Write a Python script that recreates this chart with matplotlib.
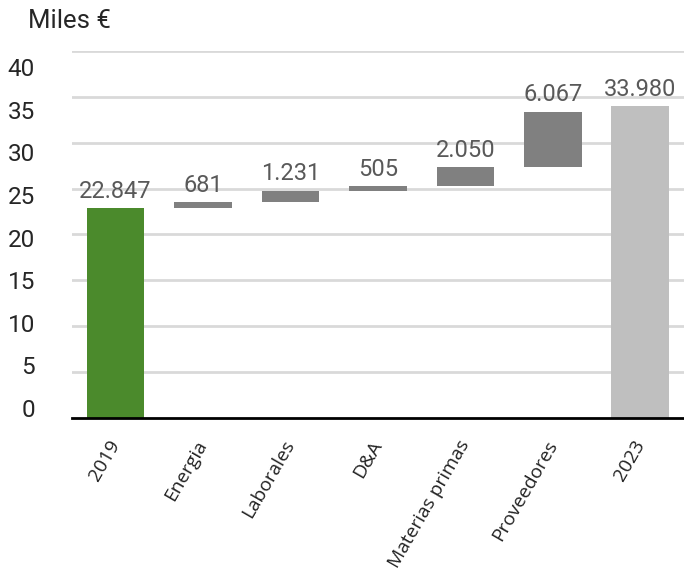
import numpy as np
import matplotlib.pyplot as plt

# Waterfall data (miles de euros)
categories = ['2019', 'Energia', 'Laborales', 'D&A', 'Materias primas', 'Proveedores', '2023']
start_value = 22.847
increments = [0.681, 1.231, 0.505, 2.050, 6.067]
end_value = 33.980
value_labels = ['22.847', '681', '1.231', '505', '2.050', '6.067', '33.980']
y_ticks = [0, 5, 10, 15, 20, 25, 30, 35, 40]

# Build bar bottoms / heights
heights = [start_value] + increments + [end_value]
bottoms = [0] + list(start_value + np.cumsum([0] + increments[:-1])) + [0]
colors = ['#4b8a2c'] + ['#808080'] * len(increments) + ['#bfbfbf']

fig = plt.figure(figsize=(6.84, 5.77), dpi=100)
ax = fig.add_axes([0.105, 0.2756, 0.895, 0.636])

x = np.arange(len(categories))
for yv in y_ticks[1:]:
    ax.axhline(yv, color='#d9d9d9', lw=2, zorder=0)
bars = ax.bar(x, heights, 0.66, bottom=bottoms, color=colors, zorder=2)

for rect, lab in zip(bars, value_labels):
    top = rect.get_y() + rect.get_height()
    ax.annotate(lab, (rect.get_x() + rect.get_width() / 2, top), xytext=(0, 4),
                textcoords='offset points', ha='center', va='bottom',
                fontsize=17, family='Roboto', color='#595959')

ax.set_xlim(-0.5, 6.5)
ax.set_ylim(0, 40)

# y labels sit slightly off the gridlines, as in the original
ax.set_yticks([1.09 + 0.929 * v for v in y_ticks])
ax.set_yticklabels([str(v) for v in y_ticks], fontsize=17.5, family='Roboto',
                   color='#262626')
ax.tick_params(axis='y', length=0, pad=26.5)

ax.set_xticks(x)
ax.set_xticklabels(categories, rotation=60, ha='right', va='center',
                   rotation_mode='anchor', fontsize=13.8, family='Open Sans',
                   color='#222222')
ax.tick_params(axis='x', length=0, pad=17)

for s in ['top', 'right', 'left']:
    ax.spines[s].set_visible(False)
ax.spines['bottom'].set_color('black')
ax.spines['bottom'].set_linewidth(2)
ax.spines['bottom'].set_zorder(3)

fig.text(28 / 684, 1 - 21 / 577, 'Miles €', fontsize=18.5, family='Roboto',
         color='#262626', ha='left', va='center')

fig.savefig('out.png', dpi=100)
